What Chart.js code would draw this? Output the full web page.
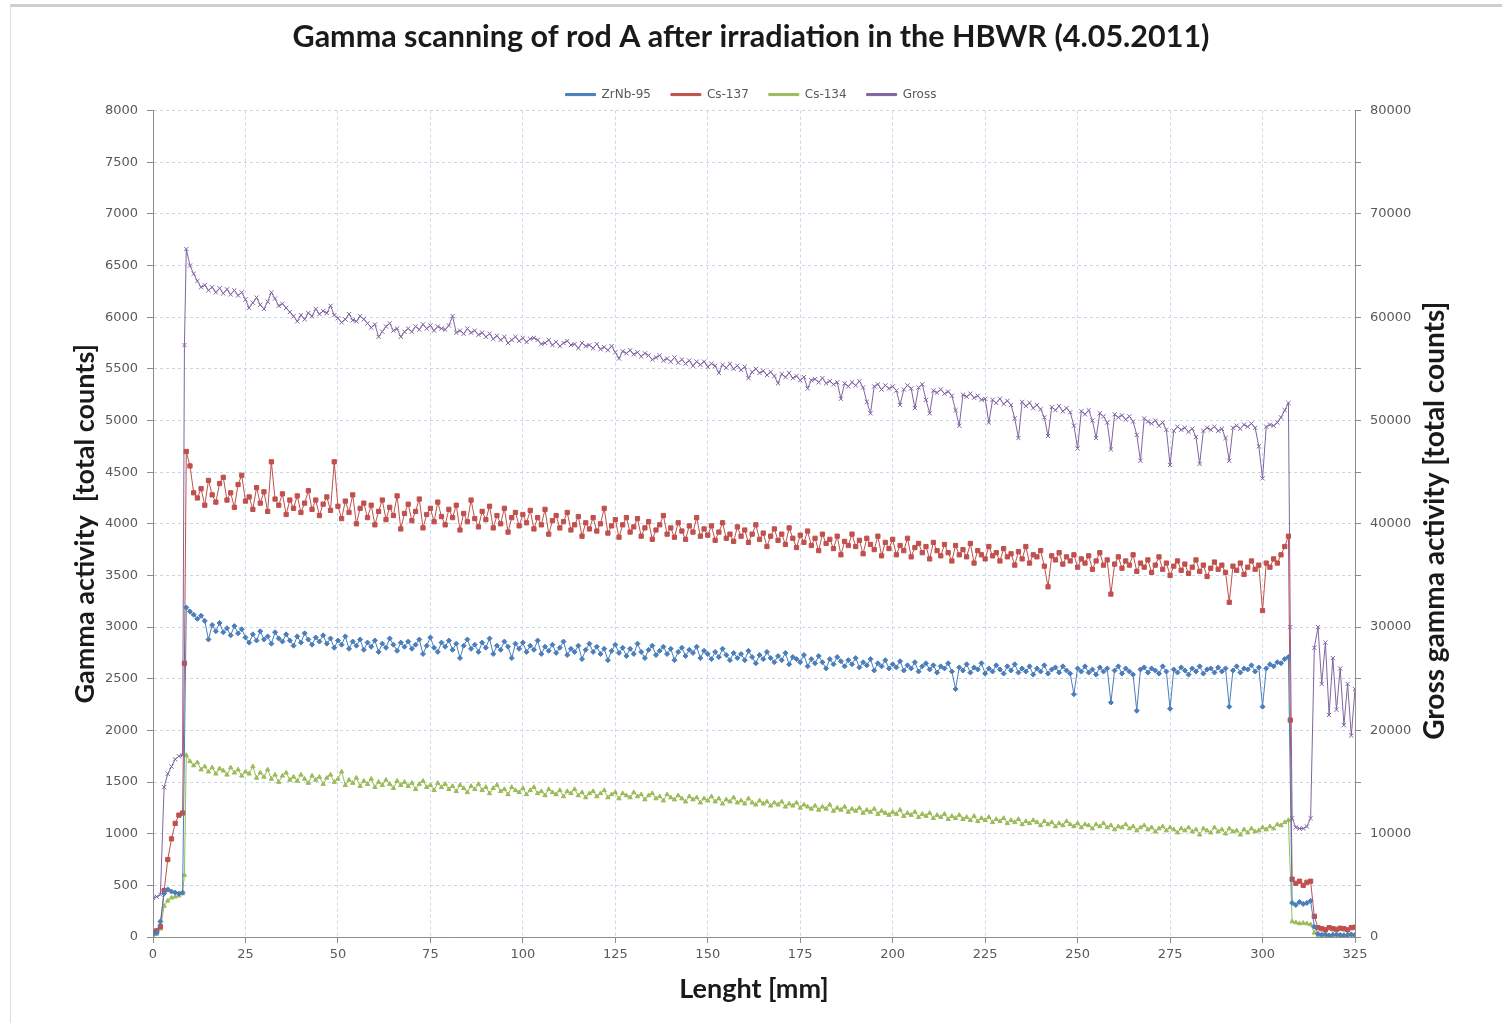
<!DOCTYPE html>
<html lang="en">
<head>
    <meta charset="UTF-8">
    <title>Gamma scanning of rod A</title>
    <script src="https://cdn.jsdelivr.net/npm/chart.js@4/dist/chart.umd.min.js"></script>
    <style>
        body {
            margin: 0;
            background: #fff;
        }
        .wrap {
            position: relative;
            width: 1502px;
            height: 1023px;
        }
        .frame {
            position: absolute;
            left: 10px;
            top: 4px;
            right: 0;
            bottom: 0;
            border-top: 3px solid #cfcfcf;
            border-left: 1px solid #dcdcdc;
            pointer-events: none;
        }
    </style>
</head>
<body>
<div class="wrap">
    <canvas id="chart"></canvas>
    <div class="frame"></div>
</div>

<script>
// scan position along the rod [mm]
const lengthMm = [
    0, 1, 2, 3, 4, 5, 6, 7, 8, 8.5,
    9, 10, 11, 12, 13, 14, 15, 16, 17, 18,
    19, 20, 21, 22, 23, 24, 25, 26, 27, 28,
    29, 30, 31, 32, 33, 34, 35, 36, 37, 38,
    39, 40, 41, 42, 43, 44, 45, 46, 47, 48,
    49, 50, 51, 52, 53, 54, 55, 56, 57, 58,
    59, 60, 61, 62, 63, 64, 65, 66, 67, 68,
    69, 70, 71, 72, 73, 74, 75, 76, 77, 78,
    79, 80, 81, 82, 83, 84, 85, 86, 87, 88,
    89, 90, 91, 92, 93, 94, 95, 96, 97, 98,
    99, 100, 101, 102, 103, 104, 105, 106, 107, 108,
    109, 110, 111, 112, 113, 114, 115, 116, 117, 118,
    119, 120, 121, 122, 123, 124, 125, 126, 127, 128,
    129, 130, 131, 132, 133, 134, 135, 136, 137, 138,
    139, 140, 141, 142, 143, 144, 145, 146, 147, 148,
    149, 150, 151, 152, 153, 154, 155, 156, 157, 158,
    159, 160, 161, 162, 163, 164, 165, 166, 167, 168,
    169, 170, 171, 172, 173, 174, 175, 176, 177, 178,
    179, 180, 181, 182, 183, 184, 185, 186, 187, 188,
    189, 190, 191, 192, 193, 194, 195, 196, 197, 198,
    199, 200, 201, 202, 203, 204, 205, 206, 207, 208,
    209, 210, 211, 212, 213, 214, 215, 216, 217, 218,
    219, 220, 221, 222, 223, 224, 225, 226, 227, 228,
    229, 230, 231, 232, 233, 234, 235, 236, 237, 238,
    239, 240, 241, 242, 243, 244, 245, 246, 247, 248,
    249, 250, 251, 252, 253, 254, 255, 256, 257, 258,
    259, 260, 261, 262, 263, 264, 265, 266, 267, 268,
    269, 270, 271, 272, 273, 274, 275, 276, 277, 278,
    279, 280, 281, 282, 283, 284, 285, 286, 287, 288,
    289, 290, 291, 292, 293, 294, 295, 296, 297, 298,
    299, 300, 301, 302, 303, 304, 305, 306, 307,
    307.5,
    308, 309, 310, 311, 312, 313, 314, 315, 316, 317,
    318, 319, 320, 321, 322, 323, 324, 325
];

// ZrNb-95 [total counts], left axis
const zrnb95 = [
    30, 40, 150, 420, 460, 440, 430, 420, 430, null,
    3190, 3150, 3120, 3080, 3110, 3060, 2880, 3020, 2960, 3040,
    2950, 2990, 2920, 3010, 2940, 2980, 2900, 2850, 2930, 2870,
    2960, 2880, 2910, 2840, 2950, 2890, 2860, 2930, 2870, 2820,
    2910, 2850, 2940, 2880, 2830, 2900, 2860, 2920, 2840, 2890,
    2800, 2870, 2830, 2910, 2790, 2860, 2820, 2880, 2780, 2850,
    2810, 2870, 2760, 2840, 2800, 2890, 2830, 2770, 2850, 2810,
    2860, 2790, 2830, 2880, 2740, 2820, 2900, 2800, 2760, 2850,
    2810, 2870, 2780, 2840, 2700, 2820, 2880, 2790, 2830, 2760,
    2850, 2800, 2890, 2740, 2820, 2780, 2860, 2810, 2700, 2840,
    2790, 2850, 2760, 2820, 2780, 2870, 2740, 2810, 2770, 2830,
    2750, 2800, 2860, 2730, 2790, 2760, 2820, 2690, 2780, 2840,
    2760, 2810, 2740, 2790, 2680, 2770, 2830, 2750, 2800, 2720,
    2790, 2740, 2840, 2760, 2700, 2780, 2820, 2730, 2770, 2810,
    2740, 2790, 2680, 2760, 2800, 2720, 2780, 2750, 2810, 2700,
    2770, 2740, 2690, 2760, 2710, 2790, 2730, 2680, 2750, 2700,
    2740, 2680, 2770, 2710, 2650, 2730, 2690, 2760, 2700, 2660,
    2720, 2680, 2750, 2640, 2710, 2690, 2660, 2730, 2620, 2690,
    2650, 2720, 2660, 2600, 2690, 2640, 2710, 2670, 2620, 2680,
    2640, 2700, 2610, 2660, 2630, 2690, 2580, 2650, 2620, 2680,
    2600, 2640, 2610, 2670, 2580, 2630, 2600, 2660, 2570, 2620,
    2650, 2590, 2630, 2560, 2620, 2600, 2650, 2570, 2400, 2610,
    2580, 2640, 2560, 2610, 2590, 2650, 2550, 2600, 2570, 2630,
    2590, 2550, 2620, 2580, 2640, 2560, 2600, 2570, 2620, 2540,
    2600, 2570, 2630, 2550, 2590, 2610, 2560, 2620, 2580, 2550,
    2350, 2600, 2570, 2620, 2560, 2590, 2540, 2610, 2570, 2600,
    2270, 2580, 2620, 2550, 2600, 2570, 2540, 2190, 2590, 2610,
    2560, 2600, 2580, 2550, 2620, 2570, 2210, 2590, 2560, 2610,
    2580, 2540, 2600, 2570, 2620, 2550, 2590, 2600, 2560, 2610,
    2570, 2600, 2230, 2580, 2620, 2560, 2600, 2590, 2630, 2570,
    2610, 2230, 2600, 2640, 2620, 2660, 2650, 2690, 2710,
    null,
    330, 310, 340, 320, 330, 350, 100, 30, 20, 25,
    15, 20, 25, 20, 15, 20, 25, 20
];

// Cs-137 [total counts], left axis
const cs137 = [
    40, 60, 100, 450, 750, 950, 1100, 1180, 1200, 2650,
    4700, 4560, 4300, 4250, 4340, 4180, 4420, 4280, 4210, 4390,
    4450, 4230, 4300, 4160, 4380, 4470, 4220, 4260, 4140, 4350,
    4200, 4310, 4120, 4600, 4240, 4180, 4290, 4090, 4230, 4150,
    4270, 4110, 4200, 4320, 4140, 4230, 4080, 4190, 4260, 4130,
    4600, 4170, 4050, 4220, 4110, 4280, 4000, 4150, 4200, 4060,
    4180, 3990, 4120, 4230, 4040, 4160, 4080, 4270, 3950, 4100,
    4190, 4030, 4120, 4240, 3960, 4090, 4150, 4020, 4210, 4070,
    3990, 4140, 4060, 4180, 3940, 4100, 4020, 4230, 4050, 3970,
    4120, 4040, 4170, 3960, 4080, 4000, 4150, 3920, 4060, 4110,
    3980, 4090, 4010, 4130, 3950, 4060, 3990, 4140, 3900, 4030,
    4080, 3960, 4020, 4110, 3940, 3990, 4070, 3880, 4010, 3950,
    4060, 3930, 4000, 4150, 3910, 3980, 4040, 3870, 3990, 4060,
    3920, 3970, 4050, 3880, 3960, 4020, 3850, 3940, 3990, 4080,
    3900, 3960, 3870, 4010, 3930, 3850, 3980, 3920, 4060, 3880,
    3950, 3890, 3980, 3840, 3920, 4010, 3860, 3900, 3830, 3970,
    3880, 3940, 3820, 3900, 3990, 3850, 3910, 3780, 3880, 3950,
    3840, 3900, 3800, 3960, 3860, 3770, 3890, 3820, 3930, 3790,
    3860, 3740, 3900, 3810, 3850, 3760, 3880, 3700, 3830, 3790,
    3900, 3780, 3840, 3710, 3860, 3800, 3750, 3880, 3690, 3820,
    3760, 3850, 3700, 3790, 3740, 3860, 3680, 3770, 3810, 3720,
    3780, 3660, 3820, 3740, 3690, 3800, 3720, 3640, 3790, 3700,
    3750, 3680, 3810, 3620, 3740, 3700, 3660, 3780, 3690, 3720,
    3640, 3760, 3680, 3710, 3600, 3730, 3660, 3780, 3620, 3700,
    3680, 3740, 3590, 3390, 3690, 3650, 3720, 3610, 3680, 3640,
    3700, 3580, 3660, 3620, 3690, 3560, 3640, 3720, 3600, 3650,
    3320, 3610, 3680, 3570, 3640, 3600, 3700, 3540, 3620, 3580,
    3650, 3530, 3600, 3680, 3560, 3620, 3500, 3590, 3640, 3550,
    3610, 3520, 3580, 3650, 3540, 3600, 3490, 3570, 3630, 3560,
    3600, 3530, 3240, 3590, 3550, 3620, 3510, 3580, 3640, 3560,
    3600, 3160, 3620, 3580, 3660, 3620, 3700, 3780, 3880,
    2100,
    560, 520, 540, 500, 530, 540, 200, 90, 80, 70,
    90, 80, 75, 85, 80, 70, 90, 95
];

// Cs-134 [total counts], left axis
const cs134 = [
    20, 30, 80, 300, 350, 380, 390, 400, 420, 600,
    1760, 1700, 1660, 1690, 1620, 1650, 1600, 1640, 1580, 1630,
    1610, 1570, 1640, 1590, 1620, 1560, 1600, 1580, 1650, 1540,
    1590, 1550, 1620, 1530, 1570, 1500, 1560, 1590, 1520, 1550,
    1510, 1570, 1530, 1490, 1560, 1520, 1550, 1480, 1540, 1570,
    1500, 1530, 1600, 1470, 1520, 1490, 1540, 1460, 1510, 1480,
    1530, 1450, 1500, 1470, 1520, 1480, 1440, 1510, 1470, 1500,
    1460, 1490, 1430, 1480, 1510, 1450, 1470, 1420, 1490, 1450,
    1480, 1430, 1460, 1410, 1470, 1440, 1400, 1460, 1430, 1480,
    1420, 1450, 1390, 1440, 1470, 1410, 1430, 1380, 1450, 1420,
    1400, 1440, 1380, 1420, 1450, 1390, 1410, 1370, 1430, 1400,
    1380, 1420, 1360, 1410, 1390, 1430, 1370, 1400, 1350, 1390,
    1410, 1360, 1390, 1420, 1350, 1380, 1400, 1340, 1390, 1370,
    1350, 1400, 1360, 1380, 1330, 1370, 1390, 1340, 1360, 1320,
    1380, 1350, 1330, 1370, 1340, 1310, 1360, 1330, 1350, 1300,
    1340, 1320, 1360, 1310, 1340, 1290, 1330, 1310, 1350, 1300,
    1320, 1290, 1340, 1300, 1280, 1320, 1290, 1310, 1270, 1300,
    1280, 1310, 1260, 1290, 1270, 1300, 1250, 1280, 1260, 1240,
    1270, 1230, 1260, 1240, 1280, 1220, 1250, 1230, 1260, 1210,
    1240, 1220, 1250, 1200, 1230, 1210, 1240, 1190, 1220, 1200,
    1180, 1210, 1190, 1230, 1170, 1200, 1180, 1210, 1160, 1190,
    1170, 1200, 1150, 1180, 1160, 1190, 1140, 1170, 1150, 1180,
    1140, 1160, 1130, 1170, 1120, 1150, 1130, 1160, 1110, 1140,
    1120, 1150, 1100, 1130, 1110, 1140, 1090, 1120, 1100, 1130,
    1110, 1080, 1120, 1090, 1110, 1070, 1100, 1080, 1120, 1090,
    1070, 1100, 1060, 1090, 1080, 1050, 1090, 1070, 1100, 1060,
    1080, 1040, 1070, 1060, 1090, 1050, 1070, 1030, 1060, 1080,
    1040, 1060, 1020, 1050, 1070, 1030, 1060, 1040, 1010, 1050,
    1030, 1060, 1020, 1040, 990, 1050, 1030, 1010, 1060, 1020,
    1040, 1000, 1050, 1020, 1030, 990, 1040, 1010, 1050, 1020,
    1030, 1060, 1040, 1070, 1050, 1090, 1080, 1110, 1130,
    null,
    150, 140, 130, 135, 130, 120, 40, 20, 25, 20,
    15, 25, 20, 15, 20, 25, 20, 15
];

// Gross gamma [total counts], right axis
const grossCounts = [
    3800, 3900, 4100, 14500, 15800, 16500, 17200, 17500, 17600, 57300,
    66600, 65000, 64200, 63500, 62900, 63100, 62600, 62900, 62400, 62800,
    62300, 62700, 62200, 62600, 62100, 62400, 61700, 60900, 61400, 61900,
    61200, 60800, 61500, 62400, 61800, 61100, 61300, 60900, 60500, 60100,
    59600, 60200, 59800, 60400, 60100, 60800, 60300, 60600, 60400, 61100,
    60200, 59900, 59500, 59800, 60300, 59700, 59600, 60100, 59800, 59400,
    59000, 59300, 58100, 58600, 59100, 59400, 58700, 58900, 58100, 58600,
    58900, 58600, 59100, 58800, 59300, 58900, 59200, 58700, 59100, 58900,
    58800, 59200, 60100, 58500, 58700, 58400, 58900, 58500, 58700, 58300,
    58500, 58100, 58400, 57900, 58200, 57800, 58100, 57500, 57800, 58100,
    57700, 58000, 57600, 57900, 58000, 57800, 57400, 57500, 57800, 57300,
    57600, 57200, 57500, 57700, 57300, 57400, 57000, 57500, 57200, 57300,
    57000, 57400, 56900, 57100, 56800, 57200, 56600, 56000, 56700, 56500,
    56800, 56400, 56600, 56200, 56500, 56300, 55900, 56100, 56300, 55800,
    56000, 55700, 56100, 55600, 55900, 55500, 55800, 55300, 55700, 55400,
    55700, 55200, 55500, 55300, 54600, 55400, 55100, 55500, 55000, 55300,
    54900, 55200, 54100, 54700, 55000, 54600, 54800, 54400, 54700, 54300,
    53600, 54500, 54200, 54600, 54100, 54300, 53900, 54200, 53100, 53900,
    54000, 53700, 54100, 53600, 53800, 53500, 53700, 52100, 53600, 53300,
    53700, 53400, 53800, 53200, 51800, 50700, 53300, 53500, 53000, 53400,
    53100, 53300, 52900, 51500, 53000, 53400, 53100, 51200, 53200, 53500,
    52000, 50700, 52900, 52700, 53000, 52600, 52800, 52400, 51000, 49500,
    52500, 52300, 52600, 52200, 52400, 52000, 52100, 49800, 52000, 51700,
    52100, 51600, 51900, 51500, 50200, 48300, 51800, 51400, 51700, 51200,
    51500, 51100, 50300, 48500, 51300, 51000, 51400, 50900, 51200, 50800,
    49500, 47300, 50900, 50600, 51000, 50000, 48300, 50700, 50400, 49800,
    47200, 50600, 50300, 50500, 50100, 50400, 49900, 48600, 46100, 50200,
    49900, 49700, 50000, 49500, 49800, 49100, 45700, 49000, 49400, 49100,
    49300, 48900, 49200, 48400, 45800, 49000, 49300, 49100, 49400, 49000,
    49200, 48300, 46100, 49300, 49500, 49200, 49600, 49400, 49700, 49300,
    47500, 44400, 49400, 49600, 49500, 49800, 50300, 51000, 51700,
    30000,
    11500, 10600, 10500, 10500, 10700, 11500, 28000, 30000, 24500, 28500,
    21500, 27000, 22000, 26000, 20500, 24500, 19500, 24000
];

const seriesNames = ['ZrNb-95', 'Cs-137', 'Cs-134', 'Gross'];

function toPoints(values) {
    return lengthMm.map((x, i) => ({ x: x, y: values[i] }));
}

const tickFont = { family: 'DejaVu Sans', size: 13 };
const titleFont = { family: 'Lato', size: 27, weight: 'bold' };
const gridColor = '#c9d5ea';
const axisColor = '#8c8c8c';

// right axis title reads bottom-to-top, drawn by hand
const rightTitle = {
    id: 'rightTitle',
    afterDraw(chart) {
        const ctx = chart.ctx;
        const area = chart.chartArea;
        ctx.save();
        ctx.translate(area.right + 80, (area.top + area.bottom) / 2 - 3);
        ctx.rotate(-Math.PI / 2);
        ctx.font = 'bold 28px Lato';
        ctx.fillStyle = '#1a1a1a';
        ctx.textAlign = 'center';
        ctx.textBaseline = 'middle';
        ctx.fillText('Gross gamma activity [total counts]', 0, 0);
        ctx.restore();
    }
};

function series(label, values, color, style, radius, axis) {
    return {
        label: label,
        data: toPoints(values),
        yAxisID: axis,
        borderColor: color,
        backgroundColor: color,
        borderWidth: 1,
        pointStyle: style,
        pointRadius: radius,
        pointBorderWidth: 1,
        pointBackgroundColor: color,
        pointBorderColor: color,
        spanGaps: true,
        tension: 0
    };
}

new Chart(document.getElementById('chart'), {
    type: 'line',
    data: {
        datasets: [
            series(seriesNames[0], zrnb95, '#4a7ebb', 'rectRot', 2.5, 'y'),
            series(seriesNames[1], cs137, '#c0504d', 'rect', 3, 'y'),
            series(seriesNames[2], cs134, '#9bbb59', 'triangle', 2.5, 'y'),
            series(seriesNames[3], grossCounts, '#8064a2', 'crossRot', 3, 'y2')
        ]
    },
    options: {
        responsive: true,
        maintainAspectRatio: false,
        animation: false,
        layout: { padding: { top: 0, left: 0, right: 0, bottom: 0 } },
        plugins: {
            title: {
                display: true,
                text: 'Gamma scanning of rod A after irradiation in the HBWR (4.05.2011)',
                color: '#1a1a1a',
                font: { family: 'Lato', size: 30.5, weight: 'bold' },
                padding: { top: 19, bottom: 13 }
            },
            legend: {
                position: 'top',
                labels: {
                    boxWidth: 30,
                    boxHeight: 2,
                    color: '#595959',
                    font: { family: 'DejaVu Sans', size: 12 },
                    padding: 20
                }
            },
            tooltip: { enabled: false }
        },
        scales: {
            x: {
                type: 'linear',
                min: 0,
                max: 325,
                ticks: { stepSize: 25, color: '#595959', font: tickFont, padding: 4, maxRotation: 0 },
                grid: { color: gridColor, tickColor: axisColor, tickLength: 6 },
                border: { color: axisColor, dash: [3, 3] },
                title: {
                    display: true,
                    text: 'Lenght [mm]',
                    color: '#1a1a1a',
                    font: titleFont,
                    padding: { top: 0, bottom: 18 }
                },
                afterFit(scale) { scale.height = 86; }
            },
            y: {
                position: 'left',
                min: 0,
                max: 8000,
                ticks: {
                    stepSize: 500,
                    color: '#595959',
                    font: tickFont,
                    padding: 9,
                    callback: v => String(v)
                },
                grid: { color: gridColor, tickColor: axisColor, tickLength: 6 },
                border: { color: axisColor, dash: [3, 3] },
                title: {
                    display: true,
                    text: 'Gamma activity  [total counts]',
                    color: '#1a1a1a',
                    font: titleFont,
                    padding: { top: 69, bottom: 0 }
                },
                afterFit(scale) { scale.width = 153; }
            },
            y2: {
                position: 'right',
                min: 0,
                max: 80000,
                ticks: {
                    stepSize: 5000,
                    color: '#595959',
                    font: tickFont,
                    padding: 9,
                    callback: v => (v % 10000 === 0 ? String(v) : '')
                },
                grid: { drawOnChartArea: false, tickColor: axisColor, tickLength: 6 },
                border: { color: axisColor },
                afterFit(scale) { scale.width = 147; }
            }
        }
    },
    plugins: [rightTitle]
});
</script>
</body>
</html>
